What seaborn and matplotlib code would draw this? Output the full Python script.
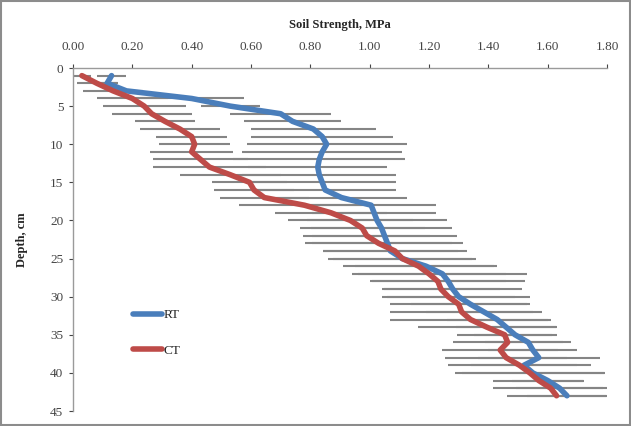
import numpy as np
import pandas as pd
import matplotlib
matplotlib.use("Agg")
import matplotlib.pyplot as plt
from matplotlib.patches import Rectangle
import seaborn as sns

# Penetrometer soil strength profiles (MPa) by depth (cm)
depth = list(range(1, 44))

rt_strength = [0.13, 0.115, 0.18, 0.40, 0.53, 0.70, 0.74, 0.81, 0.84, 0.855,
               0.84, 0.83, 0.825, 0.83, 0.84, 0.85, 0.905, 1.005, 1.015, 1.025,
               1.04, 1.05, 1.06, 1.07, 1.11, 1.19, 1.245, 1.265, 1.28, 1.30,
               1.34, 1.385, 1.43, 1.46, 1.49, 1.535, 1.55, 1.57, 1.52, 1.55,
               1.60, 1.64, 1.665]
rt_err = [0.05, 0.037, 0.04, 0.175, 0.10, 0.17, 0.165, 0.21, 0.24, 0.27,
          0.27, 0.29, 0.235, 0.26, 0.25, 0.24, 0.22, 0.22, 0.21, 0.235,
          0.237, 0.244, 0.254, 0.227, 0.235, 0.239, 0.285, 0.258, 0.233, 0.24,
          0.20, 0.195, 0.17, 0.17, 0.14, 0.145, 0.15, 0.206, 0.18, 0.24,
          0.12, 0.146, 0.135]

ct_strength = [0.03, 0.08, 0.135, 0.20, 0.24, 0.265, 0.31, 0.36, 0.40, 0.41,
               0.40, 0.43, 0.46, 0.53, 0.595, 0.61, 0.645, 0.78, 0.87, 0.935,
               0.975, 0.99, 1.03, 1.085, 1.11, 1.165, 1.20, 1.23, 1.24, 1.265,
               1.30, 1.31, 1.34, 1.395, 1.455, 1.465, 1.44, 1.46, 1.505, 1.54,
               1.57, 1.61, 1.63]
ct_err = [0.03, 0.067, 0.10, 0.12, 0.14, 0.135, 0.10, 0.135, 0.12, 0.12,
          0.14, 0.16, 0.19, 0.17, 0.125, 0.135, 0.15, 0.22, 0.19, 0.21,
          0.21, 0.215, 0.248, 0.242, 0.25, 0.255, 0.26, 0.23, 0.20, 0.225,
          0.232, 0.242, 0.272, 0.232, 0.16, 0.185, 0.196, 0.206, 0.24, 0.253,
          0.154, 0.194, 0.167]

treatments = ["RT", "CT"]
x_ticks = [0.0, 0.2, 0.4, 0.6, 0.8, 1.0, 1.2, 1.4, 1.6, 1.8]
y_ticks = [0, 5, 10, 15, 20, 25, 30, 35, 40, 45]

df = pd.concat([
    pd.DataFrame({"Depth": depth, "Strength": rt_strength, "err": rt_err, "Tillage": "RT"}),
    pd.DataFrame({"Depth": depth, "Strength": ct_strength, "err": ct_err, "Tillage": "CT"}),
], ignore_index=True)

sns.set_theme(style="white")
plt.rcParams["font.family"] = ["Liberation Serif", "DejaVu Serif"]

colors = {"RT": "#4a7ebb", "CT": "#be4b48"}

fig = plt.figure(figsize=(6.31, 4.26), dpi=100)
ax = fig.add_axes([73 / 631, 1 - 411 / 426, (607 - 73) / 631, (411 - 68) / 426])

# standard-deviation bars behind the profiles
for name in treatments:
    sub = df[df["Tillage"] == name]
    ax.errorbar(sub["Strength"], sub["Depth"], xerr=sub["err"], fmt="none",
                ecolor="#858585", elinewidth=1.5, capsize=0, zorder=1)

sns.lineplot(data=df, x="Strength", y="Depth", hue="Tillage", hue_order=treatments,
             palette=colors, sort=False, orient="y", estimator=None,
             linewidth=4.0, ax=ax, zorder=3)

ax.set_xlim(0, 1.8)
ax.set_ylim(45, 0)
ax.xaxis.tick_top()
ax.xaxis.set_label_position("top")
ax.set_xticks(x_ticks)
ax.set_xticklabels([f"{v:.2f}" for v in x_ticks])
ax.set_yticks(y_ticks)
ax.set_yticklabels([str(v) for v in y_ticks])
ax.tick_params(axis="both", labelsize=9.5, colors="#444444", length=3, width=0.8,
               direction="out")
ax.tick_params(axis="x", top=True, bottom=False, pad=8)
ax.tick_params(axis="y", left=True, right=False, pad=4)

ax.set_xlabel("Soil Strength, MPa", fontsize=9, fontweight="bold", labelpad=9)
ax.set_ylabel("Depth, cm", fontsize=9, fontweight="bold", labelpad=16)

for side in ["right", "bottom"]:
    ax.spines[side].set_visible(False)
for side in ["left", "top"]:
    ax.spines[side].set_color("#9a9a9a")
    ax.spines[side].set_linewidth(1.0)

leg = ax.legend(loc="center left", bbox_to_anchor=(0.09, 0.228), frameon=False,
                fontsize=9.5, handlelength=2.2, handletextpad=0.1, labelspacing=1.75)
for line in leg.get_lines():
    line.set_linewidth(4.0)

fig.add_artist(Rectangle((0.002, 0.003), 0.996, 0.994, transform=fig.transFigure,
                         fill=False, edgecolor="#8c8c8c", linewidth=1.5))

fig.savefig("out.png", dpi=100)
